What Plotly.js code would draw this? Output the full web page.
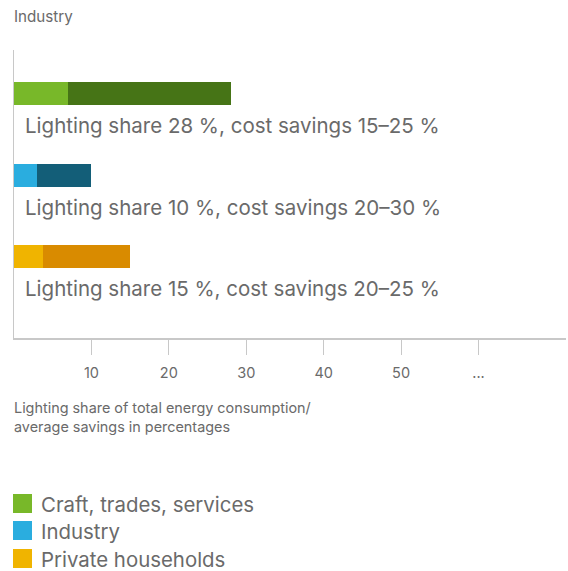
<!DOCTYPE html>
<html>
<head>
<meta charset="utf-8">
<script src="https://cdn.plot.ly/plotly-3.0.1.min.js"></script>
<style>html,body{margin:0;padding:0;background:#fff;}#chart{width:568px;height:571px;}</style>
</head>
<body>
<div id="chart"></div>
<script>
// ---- data ----
const categories = ['Craft, trades, services', 'Industry', 'Private households'];
const lightingShare = [28, 10, 15];
const firstSegment = [7, 3, 3.8];
const costSavings = ['15–25', '20–30', '20–25'];
const tickValues = [10, 20, 30, 40, 50, 60];
const tickLabels = ['10', '20', '30', '40', '50', '...'];
const chartTitle = 'Industry';
const axisTitle = 'Lighting share of total energy consumption/<br>average savings in percentages';

// ---- styles ----
const lightColors = ['#78b829', '#2aaddf', '#f0b400'];
const darkColors = ['#467416', '#135e78', '#d98b00'];
const textColor = '#6a6a6a';
const font = 'Inter, Roboto, sans-serif';

const W = 568, H = 571;
const M = {l: 14, r: 2, t: 50, b: 233};
const plotW = W - M.l - M.r, plotH = H - M.t - M.b;
const py = v => (H - M.b - v) / plotH; // pixel y -> paper y
const px = v => (v - M.l) / plotW;     // pixel x -> paper x

const secondSegment = lightingShare.map((s, i) => s - firstSegment[i]);
const yIdx = categories.map((c, i) => i);

const traces = [
  {type: 'bar', orientation: 'h', y: yIdx, x: firstSegment, width: 0.282,
   marker: {color: lightColors, line: {width: 0}}, hoverinfo: 'skip', showlegend: false},
  {type: 'bar', orientation: 'h', y: yIdx, x: secondSegment, width: 0.282,
   marker: {color: darkColors, line: {width: 0}}, hoverinfo: 'skip', showlegend: false}
];

const annotations = categories.map((c, i) => ({
  x: 0, xref: 'x', y: i + 0.393, yref: 'y', xanchor: 'left', yanchor: 'middle', xshift: 9,
  text: `Lighting share ${lightingShare[i]} %, cost savings ${costSavings[i]} %`,
  showarrow: false, font: {family: font, size: 20.5, color: textColor}
}));

annotations.push({
  x: 0, xref: 'paper', y: py(417), yref: 'paper', xanchor: 'left', yanchor: 'middle', xshift: -2,
  text: axisTitle, align: 'left', showarrow: false,
  font: {family: font, size: 14.4, color: textColor}
});

const shapes = [];
const legendRows = [503.5, 530.5, 558.5];
categories.forEach((c, i) => {
  const cy = legendRows[i];
  shapes.push({type: 'rect', xref: 'paper', yref: 'paper',
    x0: px(13), x1: px(32), y0: py(cy - 9.5), y1: py(cy + 9.5),
    fillcolor: lightColors[i], line: {width: 0}});
  annotations.push({x: px(39), xref: 'paper', y: py(cy + 1), yref: 'paper',
    xanchor: 'left', yanchor: 'middle', text: c, showarrow: false,
    font: {family: font, size: 20.4, color: textColor}});
});

const layout = {
  width: W, height: H, margin: M,
  paper_bgcolor: '#fff', plot_bgcolor: '#fff',
  barmode: 'stack', showlegend: false,
  title: {text: chartTitle, xref: 'container', yref: 'container', x: 14 / W, xanchor: 'left',
          y: 1 - 17 / H, yanchor: 'middle', font: {family: font, size: 15.2, color: textColor}},
  xaxis: {range: [0, 71.3], tickmode: 'array', tickvals: tickValues, ticktext: tickLabels,
          ticks: 'outside', ticklen: 15, tickwidth: 1.2, tickcolor: '#c8c8c8',
          showline: true, linecolor: '#c8c8c8', linewidth: 1.5, showgrid: false, zeroline: false,
          tickfont: {family: font, size: 14.5, color: textColor}, ticklabelstandoff: 6, fixedrange: true},
  yaxis: {range: [3, -0.534], showline: true, linecolor: '#c8c8c8', linewidth: 1.5,
          showticklabels: false, ticks: '', showgrid: false, zeroline: false, fixedrange: true},
  annotations: annotations,
  shapes: shapes
};

Plotly.newPlot('chart', traces, layout, {displayModeBar: false, staticPlot: true});
</script>
</body>
</html>
